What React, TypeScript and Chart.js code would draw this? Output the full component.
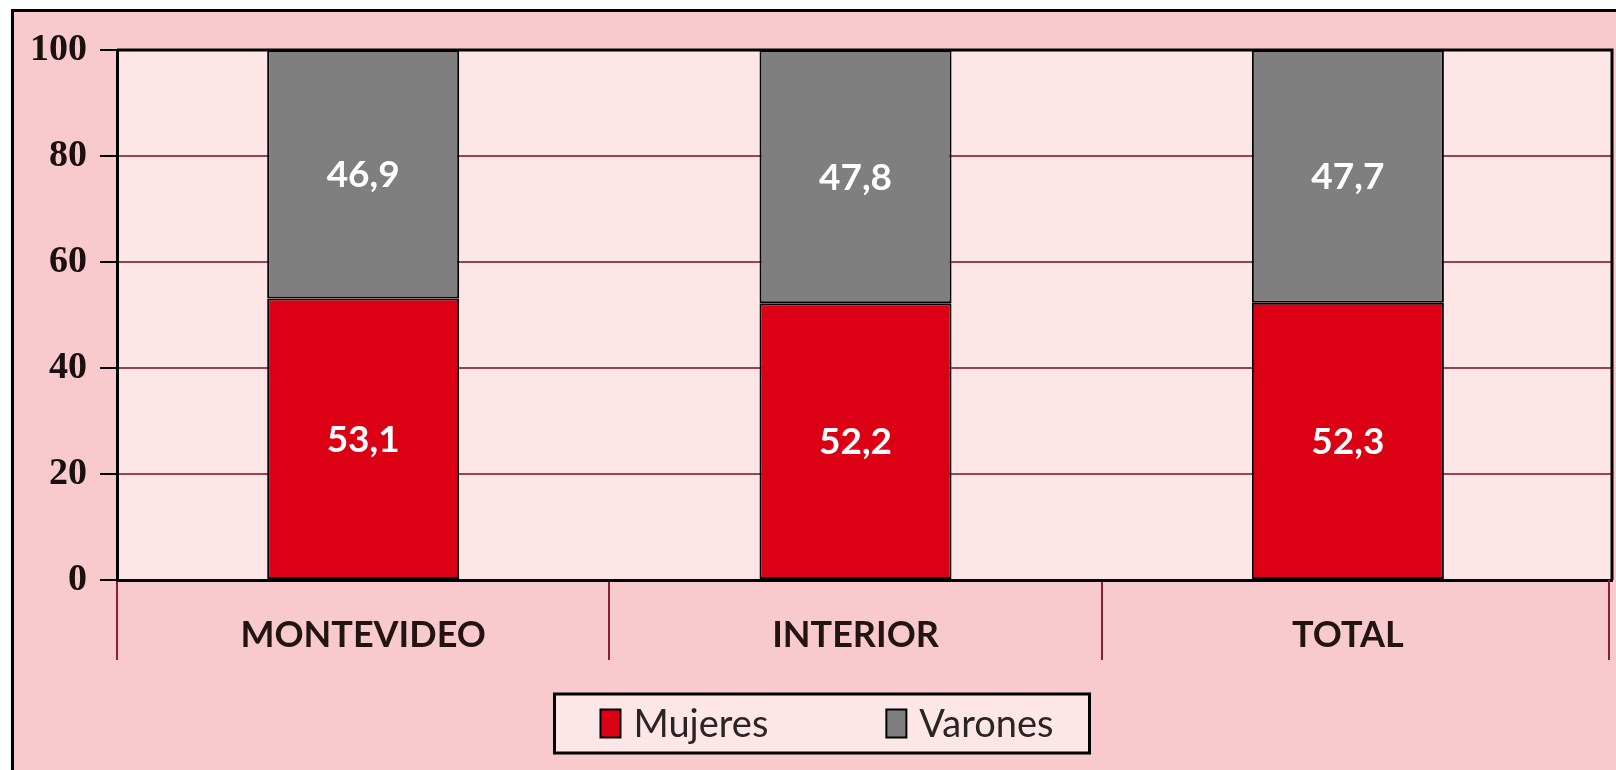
import React, { useEffect, useRef } from 'react';
import { Chart, registerables } from 'chart.js';

Chart.register(...registerables);

// ---- data ----
const categories = ['MONTEVIDEO', 'INTERIOR', 'TOTAL'];
const seriesNames = ['Mujeres', 'Varones'];
const mujeres = [53.1, 52.2, 52.3];
const varones = [46.9, 47.8, 47.7];
const yTicks = [0, 20, 40, 60, 80, 100];

// ---- styles ----
const RED = '#dc0014';
const GRAY = '#7f7f7f';
const OUTER_BG = '#f8c9cd';
const PLOT_BG = '#fde6e6';
const GRID = '#9e3f55';
const DIVIDER = '#8a1e34';
const W = 1616;
const H = 770;
const X_SPAN_RATIO = 0.988;
const LEGEND_CENTER_X = 822;

const fmt = (v: number) => v.toFixed(1).replace('.', ',');

const backgroundPlugin = {
  id: 'bgFrame',
  beforeDraw(chart: any) {
    const { ctx, chartArea: ca, width, height } = chart;
    ctx.save();
    ctx.fillStyle = '#ffffff';
    ctx.fillRect(0, 0, width, height);
    ctx.fillStyle = OUTER_BG;
    ctx.fillRect(11, 9, width, height);
    ctx.strokeStyle = '#000';
    ctx.lineWidth = 3;
    ctx.strokeRect(12.5, 10.5, width + 20, height + 20);
    ctx.fillStyle = PLOT_BG;
    ctx.fillRect(ca.left, ca.top, ca.right - ca.left, ca.bottom - ca.top);
    ctx.restore();
  },
};

const xSpanPlugin = {
  id: 'xSpan',
  afterLayout(chart: any) {
    const s = chart.scales.x;
    const len = (s.right - s.left) * X_SPAN_RATIO;
    s._endPixel = s._startPixel + len;
    s._length = len;
  },
};

const frameAndLabelsPlugin = {
  id: 'frameLabels',
  afterDatasetsDraw(chart: any) {
    const { ctx, chartArea: ca } = chart;
    ctx.save();
    // data labels
    ctx.fillStyle = '#ffffff';
    ctx.font = 'bold 37px Lato';
    ctx.textAlign = 'center';
    ctx.textBaseline = 'middle';
    chart.data.datasets.forEach((ds: any, di: number) => {
      const meta = chart.getDatasetMeta(di);
      meta.data.forEach((el: any, i: number) => {
        const p = el.getProps(['x', 'y', 'base'], true);
        ctx.fillText(fmt(ds.data[i]), p.x, (p.y + p.base) / 2 + 1);
      });
    });
    // plot frame
    ctx.strokeStyle = '#000';
    ctx.lineWidth = 3;
    ctx.beginPath();
    ctx.moveTo(ca.left, ca.top);
    ctx.lineTo(ca.right, ca.top);
    ctx.lineTo(ca.right, ca.bottom);
    ctx.stroke();
    // right divider below axis
    ctx.strokeStyle = DIVIDER;
    ctx.lineWidth = 2;
    ctx.beginPath();
    ctx.moveTo(ca.right - 3, ca.bottom);
    ctx.lineTo(ca.right - 3, ca.bottom + 80);
    ctx.stroke();
    ctx.restore();
  },
};

const legendPlugin = {
  id: 'boxLegend',
  afterDraw(chart: any) {
    const { ctx, chartArea: ca } = chart;
    const colors = [RED, GRAY];
    ctx.save();
    ctx.font = '38px Lato';
    const widths = seriesNames.map((n) => ctx.measureText(n).width);
    const padL = 46, padR = 36, bw = 20, bh = 28, gapT = 13, gapI = 118;
    const total = padL + padR + widths.reduce((a, b) => a + b, 0) + seriesNames.length * (bw + gapT) + gapI * (seriesNames.length - 1);
    const left = LEGEND_CENTER_X - total / 2;
    const top = ca.bottom + 114;
    const h = 59;
    ctx.fillStyle = PLOT_BG;
    ctx.fillRect(left, top, total, h);
    ctx.strokeStyle = '#000';
    ctx.lineWidth = 3;
    ctx.strokeRect(left, top, total, h);
    const cy = top + h / 2;
    let x = left + padL;
    seriesNames.forEach((n, i) => {
      ctx.fillStyle = colors[i];
      ctx.fillRect(x, cy - bh / 2, bw, bh);
      ctx.lineWidth = 2;
      ctx.strokeStyle = '#000';
      ctx.strokeRect(x, cy - bh / 2, bw, bh);
      ctx.fillStyle = '#2a2424';
      ctx.textAlign = 'left';
      ctx.textBaseline = 'middle';
      ctx.fillText(n, x + bw + gapT, cy + 1);
      x += bw + gapT + widths[i] + gapI;
    });
    ctx.restore();
  },
};

export default function App() {
  const ref = useRef<HTMLCanvasElement | null>(null);

  useEffect(() => {
    if (!ref.current) return;
    const chart = new Chart(ref.current, {
      type: 'bar',
      data: {
        labels: categories,
        datasets: [
          {
            label: seriesNames[0],
            data: mujeres,
            backgroundColor: RED,
            borderColor: '#000',
            borderWidth: 2,
            borderSkipped: false,
            barPercentage: 0.39,
            categoryPercentage: 1,
          },
          {
            label: seriesNames[1],
            data: varones,
            backgroundColor: GRAY,
            borderColor: '#000',
            borderWidth: 2,
            borderSkipped: false,
            barPercentage: 0.39,
            categoryPercentage: 1,
          },
        ],
      },
      options: {
        responsive: false,
        animation: false,
        devicePixelRatio: 1,
        layout: { padding: { top: 50, right: 4, left: 0, bottom: 0 } },
        plugins: {
          legend: { display: false },
          tooltip: { enabled: false },
          title: { display: false },
        },
        scales: {
          x: {
            stacked: true,
            grid: {
              display: true,
              drawOnChartArea: false,
              drawTicks: true,
              tickLength: 80,
              color: (c: any) => (c.type === 'tick' ? DIVIDER : 'rgba(0,0,0,0)'),
              lineWidth: 2,
              offset: true,
            },
            border: { display: true, color: '#000', width: 3 },
            ticks: {
              font: { family: 'Lato', weight: 'bold', size: 36 },
              color: '#231414',
              padding: -46,
              maxRotation: 0,
              autoSkip: false,
            },
            afterFit: (s: any) => {
              s.height = 190;
            },
          },
          y: {
            stacked: true,
            min: 0,
            max: 100,
            afterBuildTicks: (s: any) => {
              s.ticks = yTicks.map((v) => ({ value: v }));
            },
            ticks: {
              font: { family: 'Liberation Serif', weight: 'bold', size: 38 },
              color: '#1a1010',
              padding: 13,
            },
            grid: {
              color: GRID,
              lineWidth: 2,
              tickColor: '#000',
              tickLength: 17,
              tickWidth: 2,
            },
            border: { display: true, color: '#000', width: 3 },
            afterFit: (s: any) => {
              s.width = 117;
            },
          },
        },
      },
      plugins: [backgroundPlugin, xSpanPlugin, frameAndLabelsPlugin, legendPlugin],
    } as any);
    return () => chart.destroy();
  }, []);

  return (
    <canvas
      ref={ref}
      width={W}
      height={H}
      style={{ position: 'fixed', left: 0, top: 0, display: 'block' }}
    />
  );
}
